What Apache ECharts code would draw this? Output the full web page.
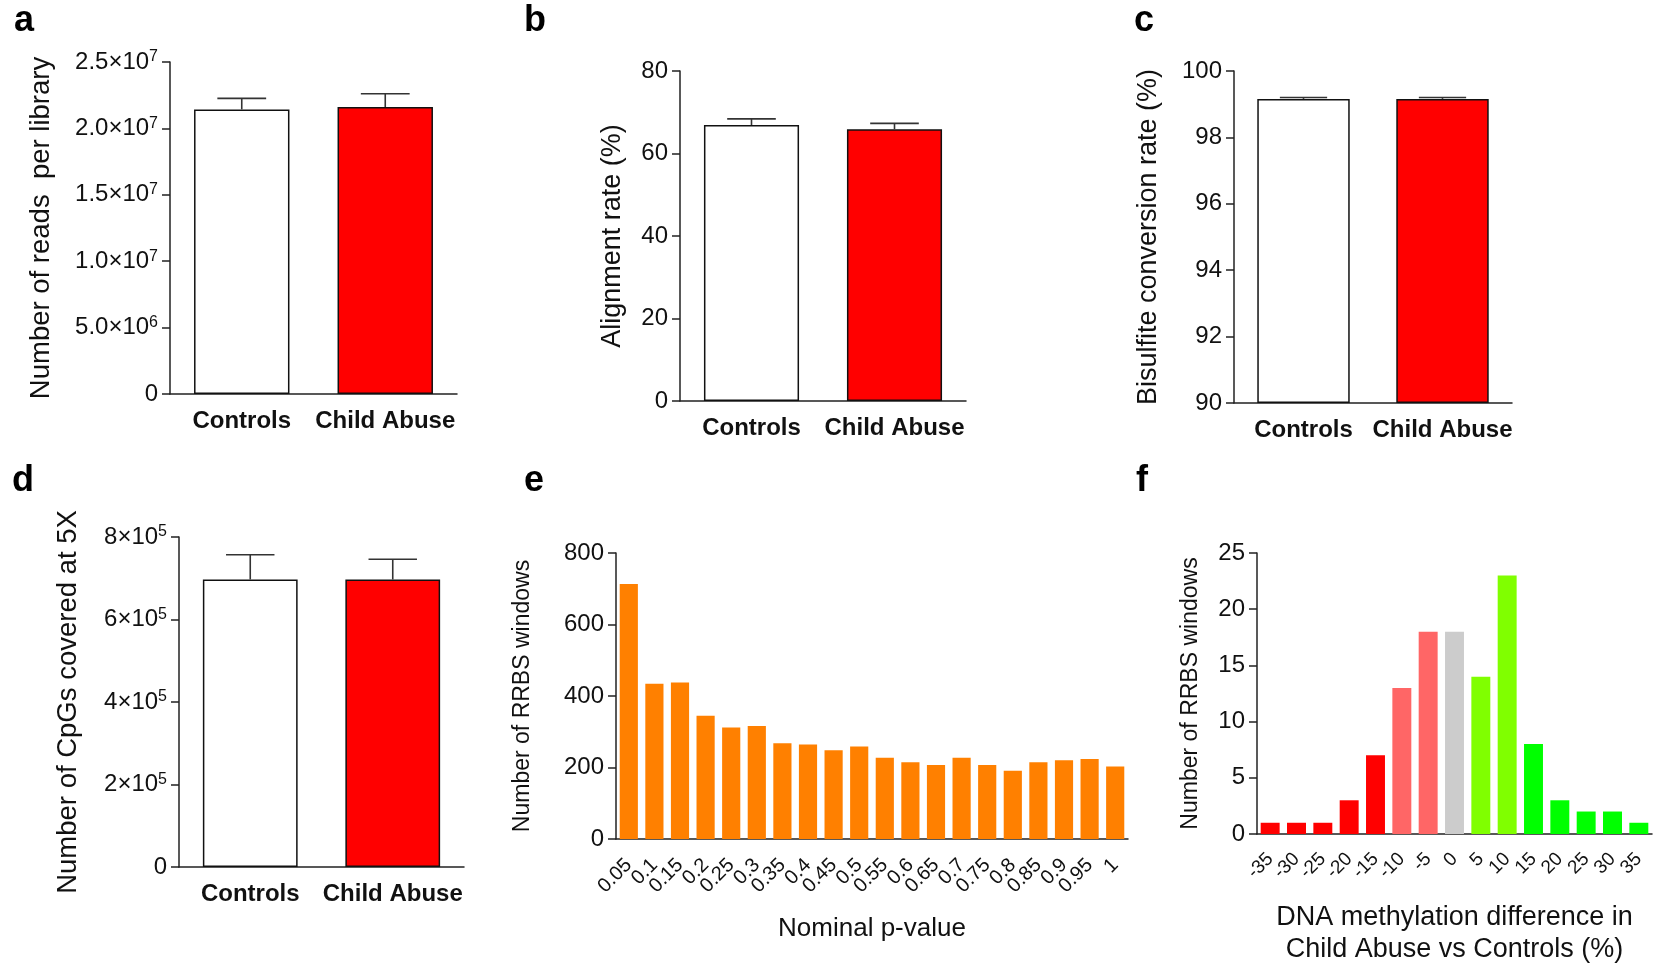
<!DOCTYPE html>
<html><head><meta charset="utf-8">
<script src="https://cdn.jsdelivr.net/npm/echarts@6/dist/echarts.min.js"></script>
<style>html,body{margin:0;padding:0;background:#fff}#c{width:1658px;height:967px}</style>
</head><body><div id="c"></div>
<script>
// ---- data ----
const groups = ['Controls', 'Child Abuse'];
const readsMean = [2.143e7, 2.161e7];
const readsSem = [0.083e7, 0.100e7];
const readsTicks = ['0', '5.0×10^6', '1.0×10^7', '1.5×10^7', '2.0×10^7', '2.5×10^7'];
const alignMean = [66.9, 65.9];
const alignSem = [1.5, 1.4];
const alignTicks = ['0', '20', '40', '60', '80'];
const bisulfiteMean = [99.16, 99.16];
const bisulfiteSem = [0.04, 0.04];
const bisulfiteTicks = ['90', '92', '94', '96', '98', '100'];
const cpgMean = [6.97e5, 6.97e5];
const cpgSem = [0.60e5, 0.49e5];
const cpgTicks = ['0', '2×10^5', '4×10^5', '6×10^5', '8×10^5'];
const pValues = ['0.05','0.1','0.15','0.2','0.25','0.3','0.35','0.4','0.45','0.5','0.55','0.6','0.65','0.7','0.75','0.8','0.85','0.9','0.95','1'];
const pCounts = [713, 434, 438, 345, 312, 316, 268, 264, 248, 259, 227, 215, 207, 227, 207, 191, 215, 220, 224, 203];
const pTicks = ['0', '200', '400', '600', '800'];
const diffBins = ['-35','-30','-25','-20','-15','-10','-5','0','5','10','15','20','25','30','35'];
const diffCounts = [1, 1, 1, 3, 7, 13, 18, 18, 14, 23, 8, 3, 2, 2, 1];
const diffTicks = ['0', '5', '10', '15', '20', '25'];

// ---- styles ----
const FONT = '"Liberation Sans", Arial, Helvetica, sans-serif';
const AX = '#222';
const TXT = '#111';
const groupColors = ['#ffffff', '#ff0000'];
function binColor(b) {
  const v = Number(b);
  if (v <= -15) return '#ff0000';
  if (v < 0) return '#ff6666';
  if (v === 0) return '#cccccc';
  if (v <= 10) return '#80ff00';
  return '#00ff00';
}

function supFormatter(labels) {
  return function (val, idx) {
    const s = labels[idx] !== undefined ? labels[idx] : String(val);
    const p = s.split('^');
    if (p.length === 1) return '{m|' + s + '}';
    return '{m|' + p[0] + '}{s|' + p[1] + '}';
  };
}
const supRich = {
  m: { fontSize: 24, fontFamily: FONT, color: TXT, lineHeight: 26 },
  s: { fontSize: 16, fontFamily: FONT, color: TXT, lineHeight: 16, verticalAlign: 'top' }
};

const grids = [
  { left: 170, top: 62, width: 287, height: 332 },
  { left: 680, top: 71, width: 286, height: 330 },
  { left: 1234, top: 71, width: 278, height: 332 },
  { left: 179, top: 537, width: 285, height: 330 },
  { left: 616, top: 553, width: 512, height: 286 },
  { left: 1257, top: 553, width: 395, height: 287 }
];

function catAxis(gi, data, extra) {
  return Object.assign({
    type: 'category', gridIndex: gi, data: data,
    axisLine: { lineStyle: { color: AX, width: 1.5 } },
    axisTick: { alignWithLabel: true, length: 9, lineStyle: { color: AX, width: 1.5 } },
    axisLabel: { color: TXT, fontFamily: FONT, fontSize: 24, fontWeight: 'bold', margin: 15, interval: 0 },
    splitLine: { show: false }
  }, extra || {});
}
function valAxis(gi, min, max, interval, name, nameGap, labels, nameSize, extra) {
  return Object.assign({
    type: 'value', gridIndex: gi, min: min, max: max, interval: interval,
    name: name, nameLocation: 'middle', nameGap: nameGap,
    nameTextStyle: { color: TXT, fontFamily: FONT, fontSize: nameSize },
    axisLine: { show: true, lineStyle: { color: AX, width: 1.5 } },
    axisTick: { show: true, length: 8, lineStyle: { color: AX, width: 1.5 } },
    axisLabel: { margin: 12, formatter: supFormatter(labels), rich: supRich },
    splitLine: { show: false }
  }, extra || {});
}

function groupBars(ai, means) {
  return {
    type: 'bar', xAxisIndex: ai, yAxisIndex: ai, barWidth: '66.5%',
    data: means.map((v, i) => ({ value: v, itemStyle: { color: groupColors[i], borderColor: '#111', borderWidth: 1.5 } })),
    z: 2
  };
}
function errBars(ai, means, sems) {
  return {
    type: 'custom', xAxisIndex: ai, yAxisIndex: ai, z: 3,
    data: means.map((v, i) => [i, v, sems[i]]),
    renderItem: function (params, api) {
      const x = api.value(0), y = api.value(1), e = api.value(2);
      const p0 = api.coord([x, y]);
      const p1 = api.coord([x, y + e]);
      const half = api.size([1, 0])[0] * 0.17;
      const st = { stroke: '#333', lineWidth: 1.6 };
      return {
        type: 'group', children: [
          { type: 'line', shape: { x1: p0[0], y1: p0[1], x2: p1[0], y2: p1[1] }, style: st },
          { type: 'line', shape: { x1: p1[0] - half, y1: p1[1], x2: p1[0] + half, y2: p1[1] }, style: st }
        ]
      };
    }
  };
}

const letterStyle = (t, x, y) => ({
  type: 'text', left: x, top: y,
  style: { text: t, font: 'bold 36px ' + FONT, fill: '#000' }
});

const option = {
  animation: false,
  backgroundColor: '#fff',
  grid: grids,
  xAxis: [
    catAxis(0, groups),
    catAxis(1, groups),
    catAxis(2, groups),
    catAxis(3, groups),
    catAxis(4, pValues, {
      axisLabel: { color: TXT, fontFamily: FONT, fontSize: 20, rotate: 45, margin: 23, interval: 0 },
      name: 'Nominal p-value', nameLocation: 'middle', nameGap: 77,
      nameTextStyle: { color: TXT, fontFamily: FONT, fontSize: 26 }
    }),
    catAxis(5, diffBins, {
      axisLabel: { color: TXT, fontFamily: FONT, fontSize: 19, rotate: 45, margin: 22, interval: 0 },
      name: 'DNA methylation difference in\nChild Abuse vs Controls (%)', nameLocation: 'middle', nameGap: 68,
      nameTextStyle: { color: TXT, fontFamily: FONT, fontSize: 27, lineHeight: 32 }
    })
  ],
  yAxis: [
    valAxis(0, 0, 2.5e7, 5e6, 'Number of reads  per library', 115, readsTicks, 27.5),
    valAxis(1, 0, 80, 20, 'Alignment rate (%)', 54, alignTicks, 27),
    valAxis(2, 90, 100, 2, 'Bisulfite conversion rate (%)', 72, bisulfiteTicks, 27, { startValue: 90 }),
    valAxis(3, 0, 8e5, 2e5, 'Number of CpGs covered at 5X', 97, cpgTicks, 27.5),
    valAxis(4, 0, 800, 200, 'Number of RRBS windows', 82, pTicks, 23),
    valAxis(5, 0, 25, 5, 'Number of RRBS windows', 55, diffTicks, 23)
  ],
  series: [
    groupBars(0, readsMean), errBars(0, readsMean, readsSem),
    groupBars(1, alignMean), errBars(1, alignMean, alignSem),
    groupBars(2, bisulfiteMean), errBars(2, bisulfiteMean, bisulfiteSem),
    groupBars(3, cpgMean), errBars(3, cpgMean, cpgSem),
    { type: 'bar', xAxisIndex: 4, yAxisIndex: 4, barWidth: '71%', data: pCounts, itemStyle: { color: '#ff8000' } },
    { type: 'bar', xAxisIndex: 5, yAxisIndex: 5, barWidth: '72%',
      data: diffCounts.map((v, i) => ({ value: v, itemStyle: { color: binColor(diffBins[i]) } })) }
  ],
  graphic: [
    letterStyle('a', 14, 3),
    letterStyle('b', 524, 3),
    letterStyle('c', 1134, 3),
    letterStyle('d', 12, 463),
    letterStyle('e', 524, 463),
    letterStyle('f', 1136, 463)
  ]
};
const chart = echarts.init(document.getElementById('c'), null, { renderer: 'canvas' });
chart.setOption(option);
</script>
</body></html>
